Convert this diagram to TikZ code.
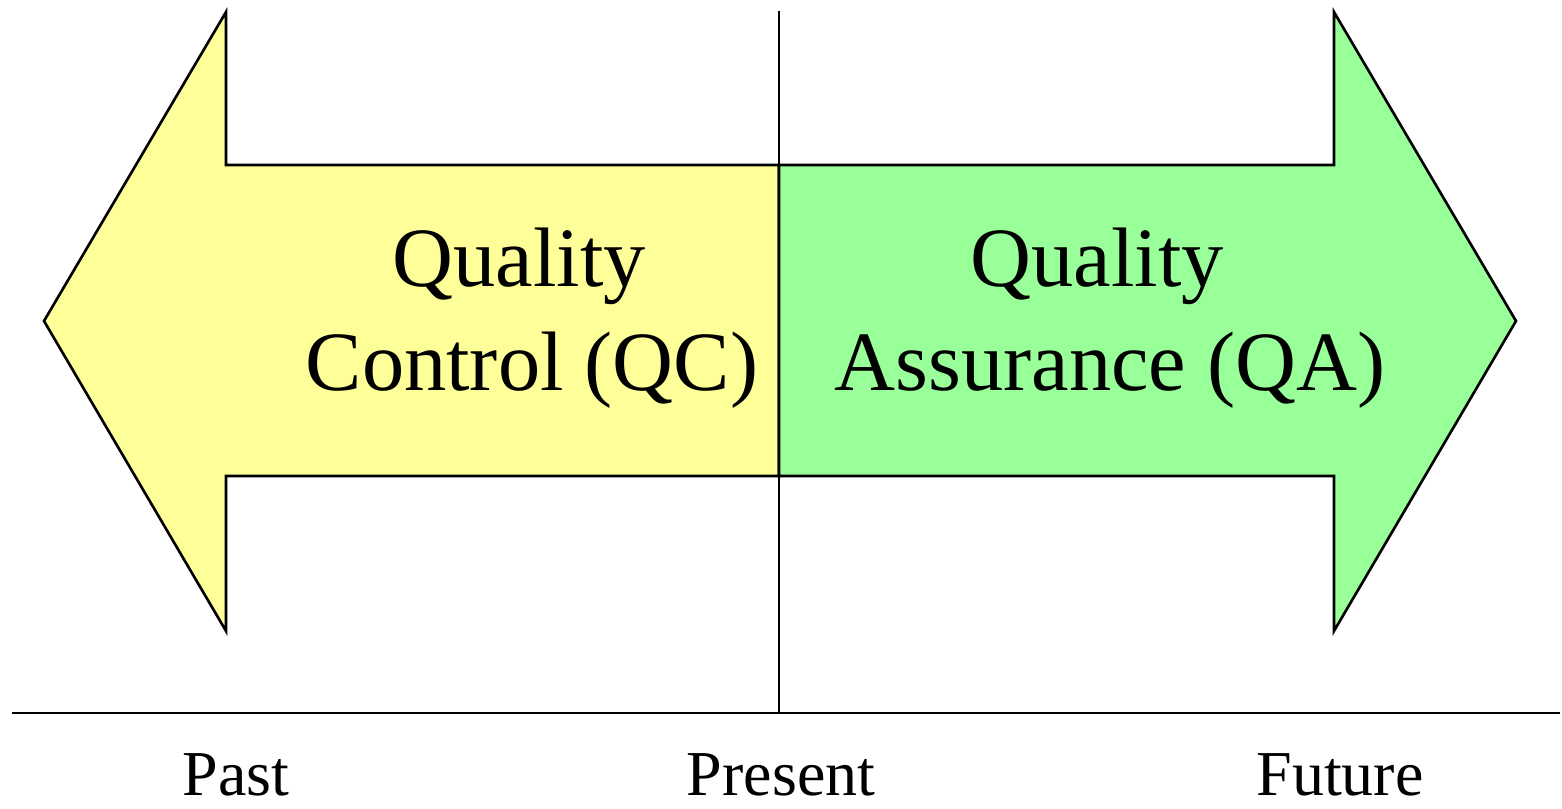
\documentclass[tikz,border=0pt]{standalone}
\usepackage{fontspec}
\setmainfont{Liberation Serif}
\usepackage{tikz}
\usetikzlibrary{positioning}
\definecolor{qcyellow}{HTML}{FFFF99}
\definecolor{qagreen}{HTML}{99FF99}

\begin{document}
\begin{tikzpicture}[x=0.01cm, y=-0.01cm,
    arrowshape/.style={draw=black, line width=0.75pt, line join=miter},
    biglabel/.style={align=center, font=\fontsize{24}{29.3}\selectfont, inner sep=0pt},
    timelabel/.style={anchor=base, font=\fontsize{18.2}{22}\selectfont, inner sep=0pt}]
    \useasboundingbox (0,0) rectangle (1562,809);

    % past arrow and future arrow
    \filldraw[arrowshape, fill=qcyellow] (779,165) -- (226,165) -- (226,12) -- (44,321)
      -- (226,631) -- (226,476) -- (779,476) -- cycle;
    \filldraw[arrowshape, fill=qagreen] (779,165) -- (1334,165) -- (1334,12) -- (1516,321)
      -- (1334,631) -- (1334,476) -- (779,476) -- cycle;

    % time axis
    \coordinate (top) at (779,11);
    \coordinate (now) at (779,714);
    \coordinate (axisl) at (12,713);
    \coordinate (axisr) at (1560,713);
    \draw[line width=0.75pt] (top) -- (now);
    \draw[line width=0.75pt] (axisl) -- (axisr);

    \node[biglabel, anchor=base] (qc) at (532,390) {Quality\hspace*{0.3em}\\Control (QC)};
    \node[biglabel, anchor=base] (qa) at (1110,390) {Quality\hspace*{0.3em}\\Assurance (QA)};

    \node[timelabel] (past) at (236,795) {Past};
    \node[timelabel] (present) at (781,795) {Present};
    \node[timelabel] (future) at (1340,795) {Future};
  \end{tikzpicture}
\end{document}
